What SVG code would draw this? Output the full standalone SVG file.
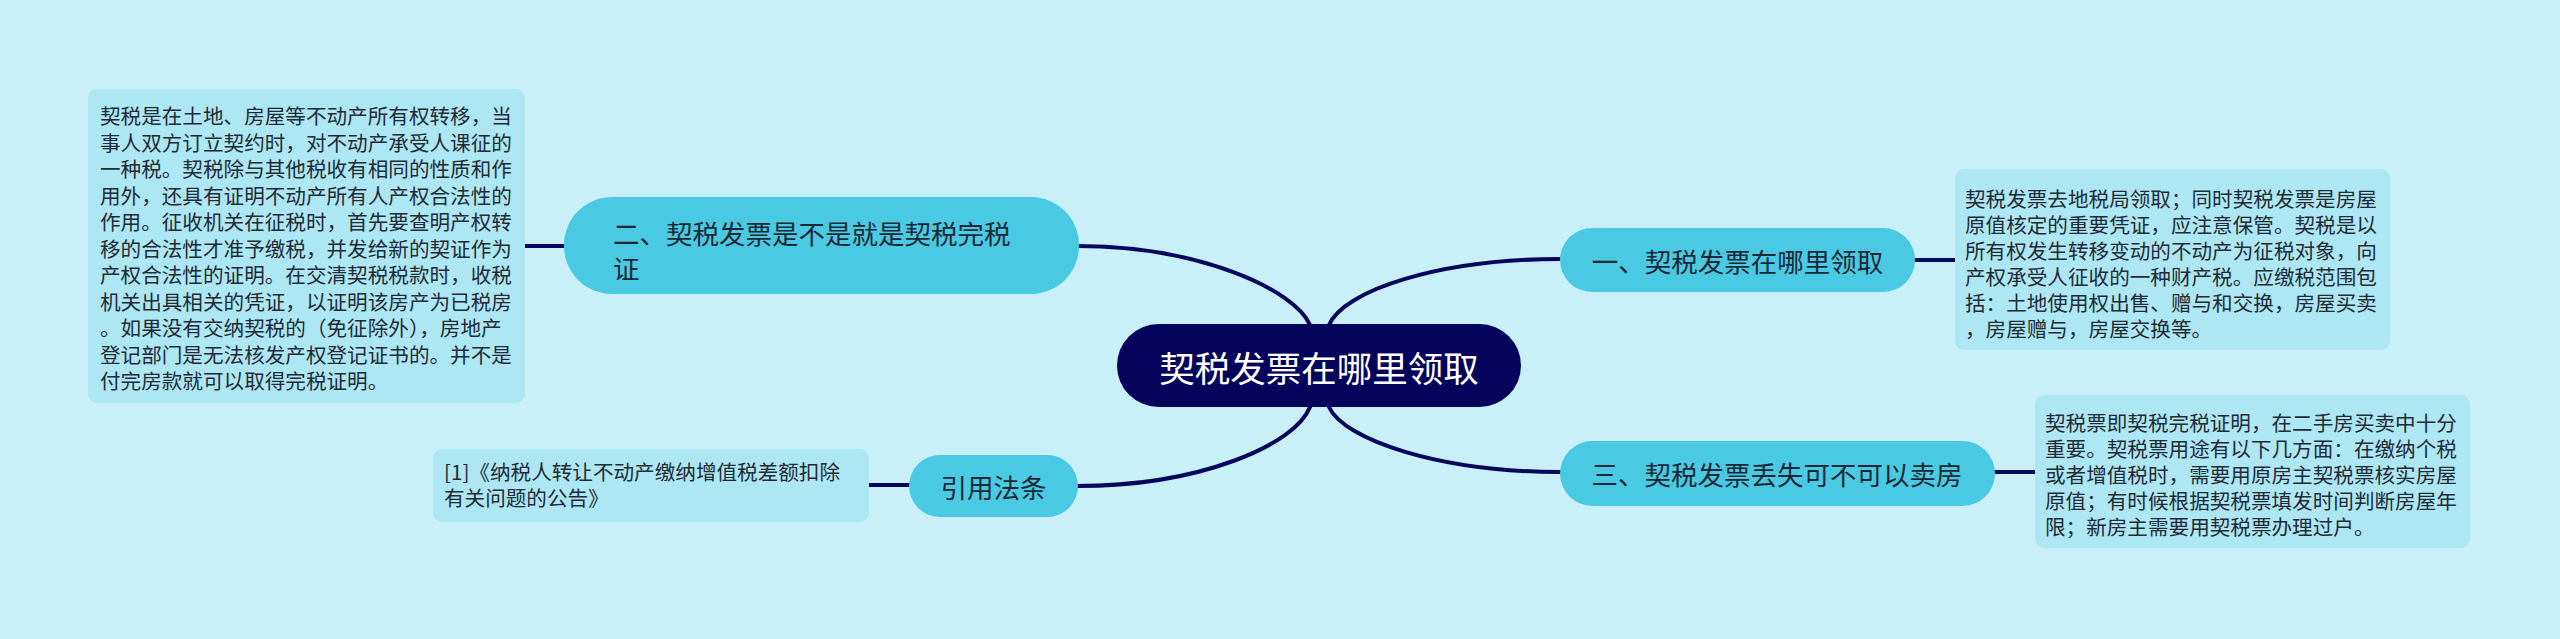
<svg xmlns="http://www.w3.org/2000/svg" width="2560" height="639" viewBox="0 0 2560 639">
<style>
.bg{fill:#c9f0f8}
.link{fill:none;stroke:#06065c;stroke-width:4;stroke-linecap:round}
.topic{fill:#49c9e2}
.note{fill:#ade7f3}
.root{fill:#05045c}
text{font-family:"Noto Sans CJK SC","Noto Sans",sans-serif;dominant-baseline:central}
.tt{font-size:26.5px;fill:#1b2836}
.nt{font-size:20.6px;fill:#1f2b36}
.rt{font-size:35.5px;fill:#ffffff}
</style>
<rect class="bg" x="0" y="0" width="2560" height="639"/>
<g id="connectors">
<path class="link" d="M1310,325 C1295,290 1200,246 1077,246"/>
<path class="link" d="M1329,325 C1344,290 1440,259 1560,259"/>
<path class="link" d="M1310,407 C1295,445 1200,486 1077,486"/>
<path class="link" d="M1329,407 C1344,440 1440,472 1560,472"/>
<path class="link" d="M564,246 L525,246"/>
<path class="link" d="M1915,260 L1955,260"/>
<path class="link" d="M1995,472 L2035,472"/>
<path class="link" d="M909,485 L869,485"/>
</g>
<g id="root">
<rect class="root" x="1117" y="324" width="404" height="83" rx="41.5"/>
<text class="rt" x="1319" y="366" text-anchor="middle">契税发票在哪里领取</text>
</g>
<g id="topic1">
<rect class="topic" x="1560" y="228" width="355" height="64" rx="32"/>
<text class="tt" x="1737.5" y="260" text-anchor="middle">一、契税发票在哪里领取</text>
</g>
<g id="topic2">
<rect class="topic" x="564" y="197" width="515" height="97" rx="48"/>
<text class="tt" x="613" y="232">二、契税发票是不是就是契税完税</text>
<text class="tt" x="613" y="267">证</text>
</g>
<g id="topic3">
<rect class="topic" x="1560" y="441" width="435" height="65" rx="32.5"/>
<text class="tt" x="1777" y="473" text-anchor="middle">三、契税发票丢失可不可以卖房</text>
</g>
<g id="topic4">
<rect class="topic" x="909" y="455" width="169" height="62" rx="31"/>
<text class="tt" x="993.5" y="486" text-anchor="middle">引用法条</text>
</g>
<g id="note2">
<rect class="note" x="88" y="89" width="437" height="314" rx="9"/>
<text class="nt" x="100" y="115">契税是在土地、房屋等不动产所有权转移，当</text>
<text class="nt" x="100" y="141.5">事人双方订立契约时，对不动产承受人课征的</text>
<text class="nt" x="100" y="168">一种税。契税除与其他税收有相同的性质和作</text>
<text class="nt" x="100" y="194.5">用外，还具有证明不动产所有人产权合法性的</text>
<text class="nt" x="100" y="221">作用。征收机关在征税时，首先要查明产权转</text>
<text class="nt" x="100" y="247.5">移的合法性才准予缴税，并发给新的契证作为</text>
<text class="nt" x="100" y="274">产权合法性的证明。在交清契税税款时，收税</text>
<text class="nt" x="100" y="300.5">机关出具相关的凭证，以证明该房产为已税房</text>
<text class="nt" x="100" y="327">。如果没有交纳契税的（免征除外），房地产</text>
<text class="nt" x="100" y="353.5">登记部门是无法核发产权登记证书的。并不是</text>
<text class="nt" x="100" y="380">付完房款就可以取得完税证明。</text>
</g>
<g id="note1">
<rect class="note" x="1955" y="169" width="435" height="181" rx="9"/>
<text class="nt" x="1965" y="198">契税发票去地税局领取；同时契税发票是房屋</text>
<text class="nt" x="1965" y="224">原值核定的重要凭证，应注意保管。契税是以</text>
<text class="nt" x="1965" y="250">所有权发生转移变动的不动产为征税对象，向</text>
<text class="nt" x="1965" y="276">产权承受人征收的一种财产税。应缴税范围包</text>
<text class="nt" x="1965" y="302">括：土地使用权出售、赠与和交换，房屋买卖</text>
<text class="nt" x="1965" y="328">，房屋赠与，房屋交换等。</text>
</g>
<g id="note3">
<rect class="note" x="2035" y="395" width="435" height="153" rx="9"/>
<text class="nt" x="2045" y="422">契税票即契税完税证明，在二手房买卖中十分</text>
<text class="nt" x="2045" y="448">重要。契税票用途有以下几方面：在缴纳个税</text>
<text class="nt" x="2045" y="474">或者增值税时，需要用原房主契税票核实房屋</text>
<text class="nt" x="2045" y="500">原值；有时候根据契税票填发时间判断房屋年</text>
<text class="nt" x="2045" y="526">限；新房主需要用契税票办理过户。</text>
</g>
<g id="note4">
<rect class="note" x="433" y="449" width="436" height="73" rx="9"/>
<text class="nt" x="444" y="471">[1]《纳税人转让不动产缴纳增值税差额扣除</text>
<text class="nt" x="444" y="497">有关问题的公告》</text>
</g>
</svg>
